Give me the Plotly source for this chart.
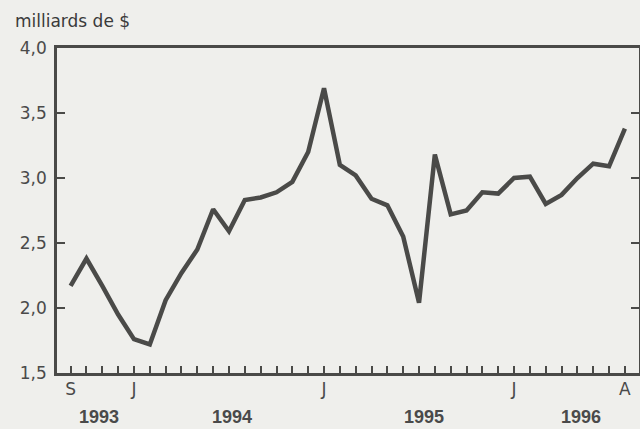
import plotly.graph_objects as go

# Monthly values, Sep 1993 .. Aug 1996 (billions of $)
months = ["1993-09", "1993-10", "1993-11", "1993-12",
          "1994-01", "1994-02", "1994-03", "1994-04", "1994-05", "1994-06",
          "1994-07", "1994-08", "1994-09", "1994-10", "1994-11", "1994-12",
          "1995-01", "1995-02", "1995-03", "1995-04", "1995-05", "1995-06",
          "1995-07", "1995-08", "1995-09", "1995-10", "1995-11", "1995-12",
          "1996-01", "1996-02", "1996-03", "1996-04", "1996-05", "1996-06",
          "1996-07", "1996-08"]
values = [2.17, 2.38, 2.17, 1.95,
          1.76, 1.72, 2.06, 2.27, 2.45, 2.76,
          2.59, 2.83, 2.85, 2.89, 2.97, 3.20,
          3.69, 3.10, 3.02, 2.84, 2.79, 2.55,
          2.04, 3.18, 2.72, 2.75, 2.89, 2.88,
          3.00, 3.01, 2.80, 2.87, 3.00, 3.11,
          3.09, 3.38]
month_labels = ["S", "J", "J", "J", "A"]
month_label_pos = [0, 4, 16, 28, 35]
major_tick_pos = [4, 16, 28]
year_labels = ["1993", "1994", "1995", "1996"]
year_label_pos = [1.8, 10.2, 22.3, 32.2]

idx = list(range(len(months)))
ink = "#4a4a48"
txt = "#4a4a4a"
bg = "#efefec"
font = "DejaVu Sans, Liberation Sans, Arial, sans-serif"
xr = [-0.86, 35.89]

fig = go.Figure()
fig.add_trace(go.Scatter(x=idx, y=values, mode="lines",
                         line=dict(color=ink, width=4.5), hoverinfo="skip",
                         showlegend=False))
# invisible trace to activate label axis
fig.add_trace(go.Scatter(x=[idx[0]], y=[values[0]], xaxis="x2", mode="lines",
                         line=dict(width=0), showlegend=False, hoverinfo="skip"))

fig.update_layout(
    width=642, height=429,
    margin=dict(l=57, r=0, t=48, b=56),
    paper_bgcolor=bg, plot_bgcolor=bg,
    separators=",.",
    font=dict(family=font, size=17, color=txt),
    xaxis=dict(range=xr, showgrid=False, zeroline=False,
               showline=True, linecolor=ink, linewidth=2.5, mirror=True,
               tickvals=major_tick_pos, ticktext=["", "", ""],
               ticks="inside", ticklen=26, tickwidth=2, tickcolor=ink,
               minor=dict(tickvals=idx, ticks="inside", ticklen=7,
                          tickwidth=2, tickcolor=ink, showgrid=False)),
    xaxis2=dict(range=xr, overlaying="x", anchor="y", side="bottom",
                showgrid=False, zeroline=False, showline=False,
                tickvals=month_label_pos, ticktext=month_labels, ticks="",
                ticklabelstandoff=4,
                tickfont=dict(family=font, size=17, color=txt)),
    yaxis=dict(range=[1.5, 4.0], dtick=0.5, tickformat=".1f",
               showgrid=False, zeroline=False,
               showline=True, linecolor=ink, linewidth=2.5, mirror="ticks",
               ticks="inside", ticklen=8, tickwidth=2, tickcolor=ink,
               ticklabelstandoff=4,
               tickfont=dict(family=font, size=17, color=txt)),
)

for lab, pos in zip(year_labels, year_label_pos):
    fig.add_annotation(x=pos, xref="x", y=-0.136, yref="paper",
                       text="<b>" + lab + "</b>", showarrow=False,
                       font=dict(family="Liberation Sans, Arial, sans-serif",
                                 size=18, color=txt), yanchor="middle")

fig.add_annotation(x=-0.0757, xref="paper", y=1.083, yref="paper",
                   text="milliards de $", showarrow=False, xanchor="left",
                   yanchor="middle", font=dict(family=font, size=17, color="#3a3a3a"))

fig.write_html("out.html", config={"displayModeBar": False},
               post_script="document.body.style.margin='0';"
                           "document.body.style.overflow='hidden';"
                           "document.body.style.background='" + bg + "';")
